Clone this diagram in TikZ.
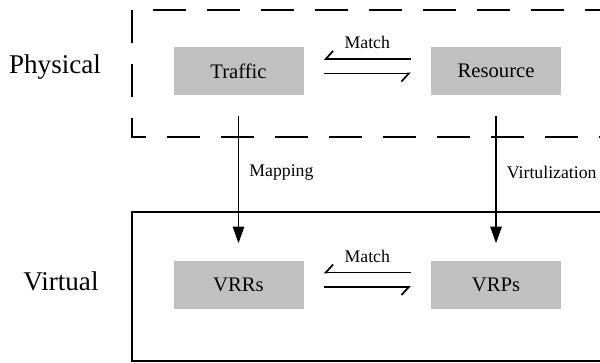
\documentclass[tikz,border=0pt]{standalone}
\usepackage{fontspec}
\setmainfont{Liberation Serif}
\newfontfamily\labelfont{Liberation Serif}
\usetikzlibrary{arrows.meta,positioning}

\definecolor{boxgray}{RGB}{192,192,192}

\begin{document}
\begin{tikzpicture}[
  x=0.75pt, y=-0.75pt,
  block/.style={fill=boxgray, minimum width=97.5pt, minimum height=36pt, inner sep=0pt, font=\labelfont\fontsize{15.5}{18}\selectfont},
  levellabel/.style={font=\labelfont\fontsize{20.3}{24}\selectfont},
  edgelabel/.style={font=\labelfont\fontsize{13.3}{16}\selectfont, inner sep=2pt},
  solidframe/.style={line width=1.4pt},
  dashframe/.style={line width=1.4pt, dash pattern=on 24.75pt off 15.75pt},
  match/.style={line width=1.3pt, -{Straight Barb[harpoon, swap, length=5.5pt, width=12pt]}},
  flow/.style={line width=1.4pt, -{Triangle[length=12.5pt, width=8.5pt]}, shorten <=15.75pt, shorten >=12.75pt},
]
\useasboundingbox (0,0) rectangle (600,362);
\clip (0,0) rectangle (600,362);

% Layer frames
\coordinate (dTL) at (132,10);
\coordinate (dBL) at (132,137);
\coordinate (dBR) at (625,137);
\coordinate (dTR) at (625,10);
\draw[dashframe] (dTL) -- (dBL) -- (dBR);
\draw[dashframe, dash phase=24.75pt] (dTL) -- (dTR);
\draw[solidframe] (132,212) rectangle (625,361);

% Layer names
\node[levellabel] (phys) at (55,67)  {Physical};
\node[levellabel] (virt) at (61,281) {Virtual};

% Blocks
\node[block]                      (T)   at (238.5,71)    {Traffic};
\node[block, right=95.25pt of T]  (R)                    {Resource};
\node[block]                      (VRR) at (238.5,284.5) {VRRs};
\node[block, right=95.25pt of VRR] (VRP)                 {VRPs};

% Match harpoons
\draw[match] ([shift={(-20,-12)}]R.west) -- node[edgelabel, above=5pt] (m1) {Match} ([shift={(20,-12)}]T.east);
\draw[match] ([shift={(20,2.5)}]T.east) -- ([shift={(-20,2.5)}]R.west);
\draw[match] ([shift={(-20,-12)}]VRP.west) -- node[edgelabel, above=5pt] (m2) {Match} ([shift={(20,-12)}]VRR.east);
\draw[match] ([shift={(20,2.5)}]VRR.east) -- ([shift={(-20,2.5)}]VRP.west);

% Physical -> virtual
\draw[flow] (T) -- node[edgelabel, right=5.5pt, pos=0.47] (map) {Mapping} (VRR);
\draw[flow] (R) -- node[edgelabel, right=5.5pt, pos=0.47] (virz) {Virtulization} (VRP);

\end{tikzpicture}
\end{document}
